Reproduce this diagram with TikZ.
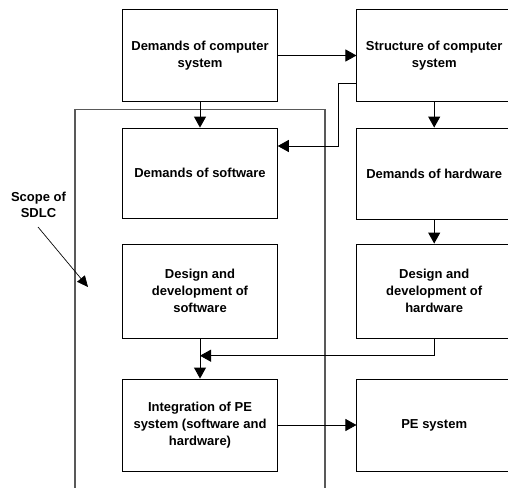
\documentclass[tikz,border=0pt]{standalone}
\usepackage{fontspec}
\setmainfont{Liberation Sans}
\usetikzlibrary{arrows.meta}
\tikzset{
  box/.style={draw=black, line width=0.9pt, minimum width=154.6pt, align=center,
              font=\bfseries\fontsize{13}{17}\selectfont, inner sep=0pt},
  link/.style={draw=black, line width=0.9pt, -{Triangle[length=11pt,width=12pt]}},
  scopeline/.style={draw=black!65, line width=1.2pt},
  lbl/.style={align=center, font=\bfseries\fontsize{13}{16.5}\selectfont, inner sep=0pt}
}
\begin{document}
\begin{tikzpicture}[x=1pt,y=-1pt]
  \useasboundingbox (0,0) rectangle (508,487);
  \clip (0,0) rectangle (508,487);
  \fill[white] (0,0) rectangle (508,487);

  % scope of the software development life cycle (open at the bottom)
  \coordinate (sl) at (75,490);
  \coordinate (sr) at (325,490);
  \draw[scopeline] (sl) -- (75,109.5) -- (325,109.5) -- (sr);

  % left column
  \node[box, minimum height=92.4pt] (b1) at (200,55.5) {Demands of computer\\system};
  \node[box, minimum height=90.5pt] (b2) at (200,173.3) {Demands of software};
  \node[box, minimum height=94pt]   (b3) at (200,291) {Design and\\development of\\software};
  \node[box, minimum height=92pt]   (b4) at (200,425) {Integration of PE\\system (software and\\hardware)};

  % right column
  \node[box, minimum height=92.4pt] (s1) at (434.2,55.5) {Structure of computer\\system};
  \node[box, minimum height=91pt]   (h1) at (434.2,173.5) {Demands of hardware};
  \node[box, minimum height=94pt]   (h2) at (434.2,291) {Design and\\development of\\hardware};
  \node[box, minimum height=92pt]   (pe) at (434.2,425) {PE system};

  % flow between the boxes
  \draw[link] (b1) -- (b2);
  \draw[link] (b1.east) -- (s1.west);
  \draw[link] ([yshift=-27.5pt]s1.west) -- ++(-18.5,0) |- ([yshift=27.3pt]b2.east);
  \draw[link] (s1) -- (h1);
  \draw[link] (h1) -- (h2);
  \coordinate (join) at (200,355.7);
  \draw[link] (h2.south) |- (join);
  \draw[link] (b3) -- (b4);
  \draw[link] (b4.east) -- (pe.west);

  % label of the scope
  \node[lbl] (scope) at (38.5,205) {Scope of\\SDLC};
  \coordinate (scopetail) at (38,227);
  \coordinate (scopehead) at (88,287);
  \draw[line width=0.7pt, -{Triangle[length=11pt,width=10pt]}] (scopetail) -- (scopehead);
\end{tikzpicture}
\end{document}
